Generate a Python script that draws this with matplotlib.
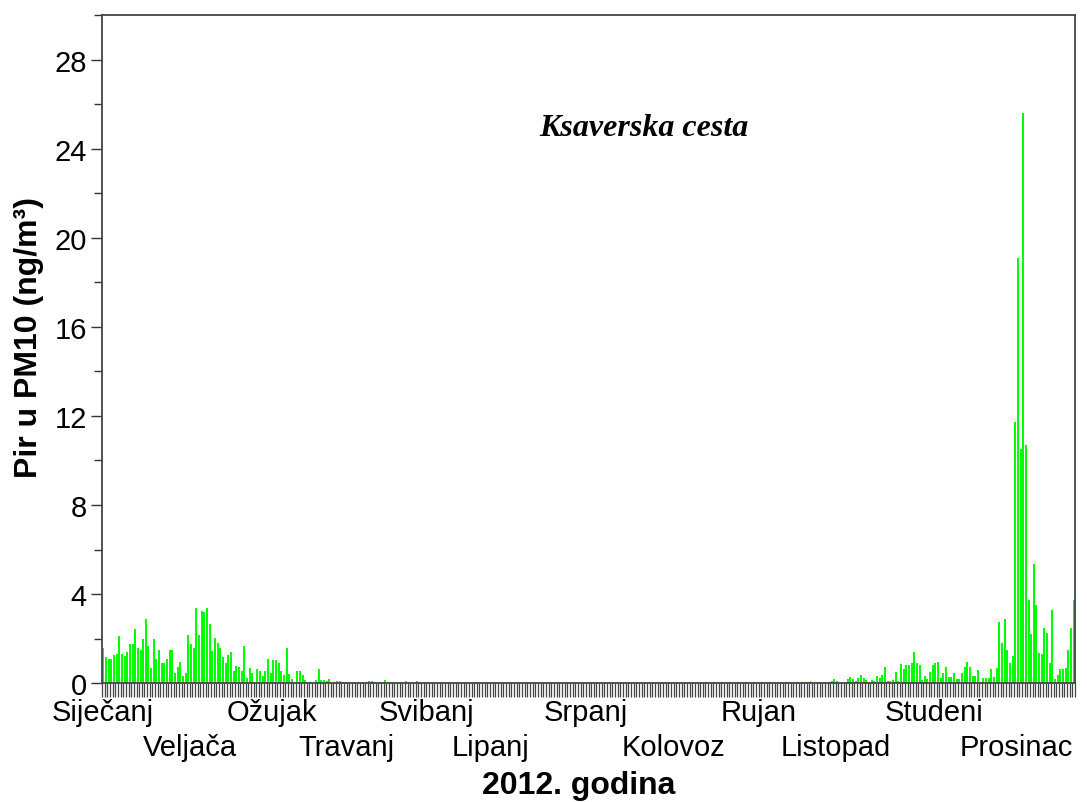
import numpy as np
import matplotlib
matplotlib.use("Agg")
import matplotlib.pyplot as plt
from matplotlib.ticker import MultipleLocator, FixedLocator, NullFormatter

plt.rcParams['font.family'] = ['Liberation Sans', 'DejaVu Sans']

# === 1. Dnevne vrijednosti (ng/m3), 2012. ===
sijecanj = [1.59, 1.17, 1.10, 1.10, 1.28, 1.32, 2.13, 1.32, 1.22, 1.38, 1.77, 1.74, 2.45, 1.59, 1.50, 1.97,
            2.90, 1.65, 0.68, 1.97, 1.10, 1.47, 0.90, 0.90, 1.10, 1.47, 1.47, 0.45, 0.72, 0.95, 0.30]
veljaca = [0.45, 2.15, 1.77, 1.59, 3.39, 2.15, 3.23, 3.18, 3.39, 2.67, 1.44, 2.03, 1.82, 1.59, 1.17, 0.90,
           1.28, 1.38, 0.53, 0.78, 0.72, 0.53, 1.65, 0.24, 0.68, 0.45, 0.0, 0.62, 0.53]
ozujak = [0.30, 0.53, 1.10, 0.45, 1.05, 1.05, 0.89, 0.53, 0.35, 1.59, 0.42, 0.20, 0.0, 0.53, 0.53, 0.35,
          0.15, 0.0, 0.03, 0.0, 0.12, 0.63, 0.12, 0.15, 0.09, 0.20, 0.0, 0.0, 0.08, 0.08, 0.05]
travanj = [0.05, 0.05, 0, 0, 0, 0.03, 0, 0.05, 0, 0.08, 0.08, 0.05, 0, 0.03, 0, 0.15,
           0.05, 0.05, 0.05, 0.05, 0.05, 0.05, 0, 0.08, 0, 0, 0.06, 0.10, 0.05, 0]
svibanj = [0, 0, 0.03, 0, 0, 0, 0, 0.02, 0, 0, 0, 0, 0, 0, 0, 0,
           0, 0, 0.03, 0.03, 0, 0, 0, 0, 0, 0, 0.02, 0, 0, 0, 0]
lipanj = [0, 0, 0, 0, 0, 0, 0, 0, 0.02, 0, 0, 0, 0, 0, 0, 0,
          0, 0, 0, 0, 0, 0, 0, 0, 0, 0, 0, 0, 0, 0]
srpanj = [0, 0, 0, 0, 0, 0, 0, 0, 0, 0, 0, 0, 0, 0, 0, 0,
          0, 0, 0, 0, 0, 0, 0, 0, 0, 0, 0, 0, 0.03, 0, 0]
kolovoz = [0, 0, 0, 0, 0, 0, 0, 0, 0, 0, 0, 0, 0, 0, 0, 0,
           0, 0, 0, 0, 0, 0, 0, 0, 0, 0, 0, 0, 0, 0, 0]
rujan = [0, 0, 0, 0, 0, 0, 0, 0, 0, 0, 0, 0.03, 0, 0.05, 0.05, 0.05,
         0, 0.05, 0, 0.05, 0.05, 0.05, 0.10, 0, 0, 0.05, 0.05, 0.05, 0, 0.05]
listopad = [0.08, 0.18, 0.10, 0, 0.06, 0.06, 0.18, 0.27, 0.18, 0.10, 0.21, 0.38, 0.22, 0.15, 0.06, 0.15,
            0.08, 0.30, 0.21, 0.38, 0.71, 0.10, 0.10, 0.15, 0.50, 0.10, 0.86, 0.65, 0.80, 0.80, 0.90]
studeni = [1.40, 0.90, 0.80, 0.15, 0.30, 0.20, 0.50, 0.80, 0.92, 0.93, 0.24, 0.44, 0.74, 0.28, 0.28, 0.44,
           0.20, 0.20, 0.44, 0.74, 0.96, 0.74, 0.30, 0.30, 0.60, 0.06, 0.25, 0.25, 0.25, 0.65]
prosinac = [0.28, 0.70, 2.75, 1.79, 2.87, 1.50, 0.92, 1.23, 11.74, 19.1, 10.5, 25.6, 10.7, 3.74, 2.20, 5.36,
            3.50, 1.34, 1.29, 2.49, 2.24, 0.92, 3.29, 0.17, 0.38, 0.65, 0.65, 0.70, 1.50, 2.49, 3.74]

mjeseci = [sijecanj, veljaca, ozujak, travanj, svibanj, lipanj,
           srpanj, kolovoz, rujan, listopad, studeni, prosinac]
nazivi = ["Siječanj", "Veljača", "Ožujak", "Travanj", "Svibanj", "Lipanj",
          "Srpanj", "Kolovoz", "Rujan", "Listopad", "Studeni", "Prosinac"]
# polozaj naziva mjeseca (dan u godini)
naziv_x = [0.4, 33, 64, 92, 122, 146, 182, 215, 247, 276, 313, 344]

vrijednosti = np.concatenate([np.array(m, dtype=float) for m in mjeseci])
dani = np.arange(len(vrijednosti)) + 0.5

# === 2. Plot ===
fig = plt.figure(figsize=(10.87, 8.03), dpi=100)
ax = fig.add_axes([0.0938, 0.148, 0.8952, 0.832])

ax.bar(dani, vrijednosti, width=0.75, color="#00ff00", linewidth=0)

ax.set_xlim(0, len(vrijednosti))
ax.set_ylim(0, 30)

# y os
ax.yaxis.set_major_locator(MultipleLocator(4))
ax.yaxis.set_minor_locator(FixedLocator(np.arange(2, 31, 4)))
ax.tick_params(axis="y", which="major", labelsize=21, length=8, width=1, color="#333333", pad=3)
ax.tick_params(axis="y", which="minor", length=6, width=1, color="#333333")
ax.set_ylabel("Pir u PM10 (ng/m³)", fontsize=23, fontweight="bold")
ax.yaxis.set_label_coords(-0.060, 0.519)

# x os: crtica za svaki dan
ax.xaxis.set_major_locator(FixedLocator([]))
ax.xaxis.set_minor_locator(FixedLocator(np.arange(0, len(vrijednosti) + 1)))
ax.xaxis.set_minor_formatter(NullFormatter())
ax.tick_params(axis="x", which="minor", length=10, width=0.9, color="#444444")

for s in ax.spines.values():
    s.set_color("#444444")
    s.set_linewidth(1.3)

# nazivi mjeseci u dva reda
trans = ax.get_xaxis_transform()
for i, (naziv, x) in enumerate(zip(nazivi, naziv_x)):
    y = -0.022 if i % 2 == 0 else -0.075
    ax.text(x, y, naziv, transform=trans, ha="center", va="top", fontsize=21)

fig.text(0.532, 0.021, "2012. godina", ha="center", va="center", fontsize=23, fontweight="bold")

ax.text(0.557, 0.832, "Ksaverska cesta", transform=ax.transAxes, ha="center", va="center",
        fontsize=23, fontweight="bold", fontstyle="italic", family="Liberation Serif")

fig.savefig("out.png", dpi=100)
